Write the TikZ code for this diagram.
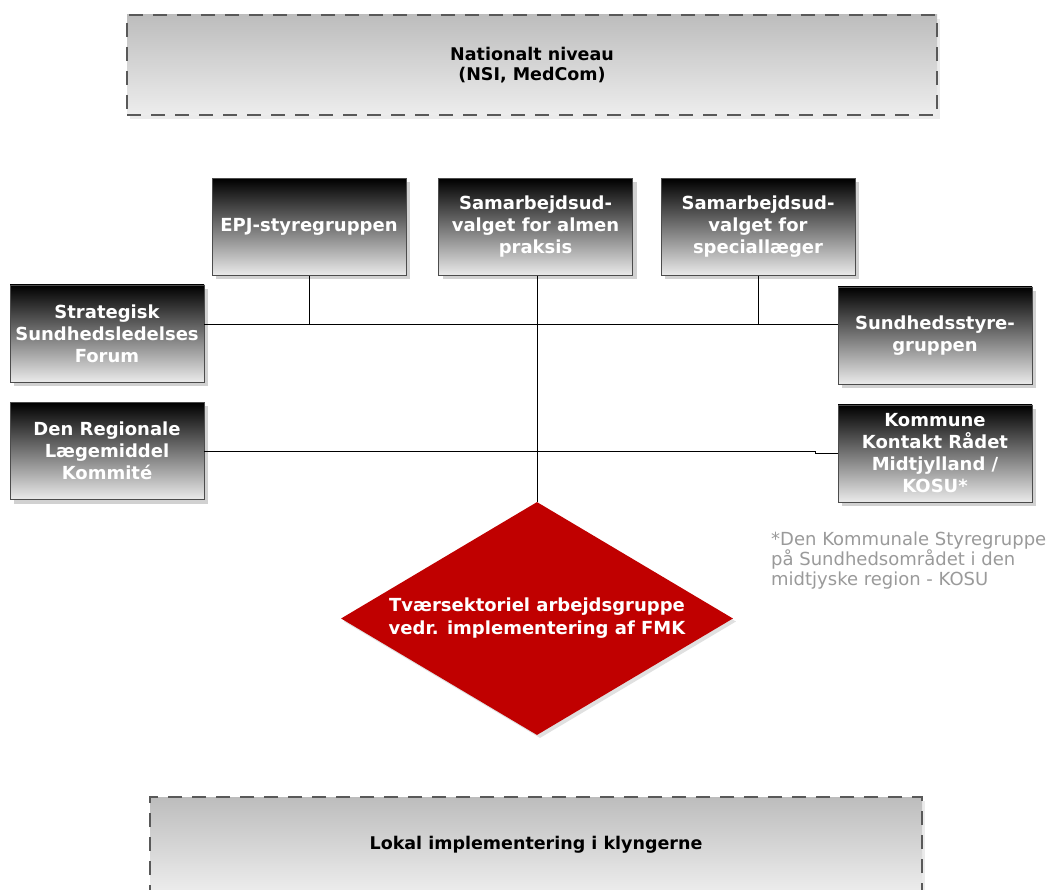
\documentclass[tikz,border=0pt]{standalone}
\usepackage{fontspec}
\setmainfont{DejaVu Sans}
\usetikzlibrary{shapes.geometric,shadows}
\definecolor{dred}{HTML}{C00000}
\definecolor{notegray}{HTML}{9A9A9A}
\begin{document}
\begin{tikzpicture}[x=1pt,y=-1pt,
  gbox/.style={draw=black!70, line width=0.8pt, top color=black, bottom color=black!8,
    minimum width=194pt, minimum height=97pt, text=white,
    font=\bfseries\fontsize{18}{22}\selectfont, align=center, inner sep=1pt,
    drop shadow={shadow xshift=4pt, shadow yshift=-4pt, fill=black!18, opacity=1}},
  dbox/.style={draw=black!65, line width=2.5pt, dash pattern=on 14pt off 10pt,
    top color=black!26, bottom color=black!7, text=black,
    font=\bfseries\fontsize{17.5}{20}\selectfont, align=center,
    drop shadow={shadow xshift=3pt, shadow yshift=-4pt, fill=black!8, opacity=1, draw=none}},
  conn/.style={draw=black, line width=0.9pt},
]
\useasboundingbox (0,0) rectangle (1055,890);
\fill[white] (0,0) rectangle (1055,890);

\node[dbox, minimum width=810pt, minimum height=100pt] (nat) at (532,65) {Nationalt niveau\\(NSI, MedCom)};
\node[dbox, minimum width=772pt, minimum height=96pt] (lok) at (536,845) {Lokal implementering i klyngerne};

\node[gbox] (epj) at (309,227) {EPJ-styregruppen};
\node[gbox] (alm) at (535.5,227) {Samarbejdsud-\\valget for almen\\praksis};
\node[gbox] (spe) at (758,227) {Samarbejdsud-\\valget for\\speciallæger};
\node[gbox] (str) at (107,333.5) {Strategisk\\Sundhedsledelses\\Forum};
\node[gbox] (sun) at (935,335.5) {Sundhedsstyre-\\gruppen};
\node[gbox] (reg) at (107,451) {Den Regionale\\Lægemiddel\\Kommité};
\node[gbox] (kom) at (935,453.5) {Kommune\\Kontakt Rådet\\Midtjylland /\\KOSU*};

\node[diamond, aspect=1.68, fill=dred, minimum width=392pt, minimum height=233pt, inner sep=0pt,
  text=white, font=\bfseries\fontsize{18}{23}\selectfont, align=center,
  drop shadow={shadow xshift=3pt, shadow yshift=-3pt, fill=black!12, opacity=1}]
  (dia) at (537,618.5) {Tværsektoriel arbejdsgruppe\\vedr. implementering af FMK};

\node[anchor=north west, text=notegray, font=\fontsize{18}{20}\selectfont, align=left, inner sep=0pt]
  (note) at (771,532) {*Den Kommunale Styregruppe\\på Sundhedsområdet i den\\midtjyske region - KOSU};

\coordinate (hl) at (0,324);
\coordinate (kstep) at (815,0);

\draw[conn] (str.east |- hl) -- (sun.west |- hl);
\draw[conn] (epj.south) -- (epj.south |- hl);
\draw[conn] (spe.south) -- (spe.south |- hl);
\draw[conn] (alm.south -| dia.north) -- (dia.north);
\draw[conn] (reg.east) -- (kstep |- reg.east) -- (kstep |- kom.west) -- (kom.west);
\end{tikzpicture}
\end{document}
